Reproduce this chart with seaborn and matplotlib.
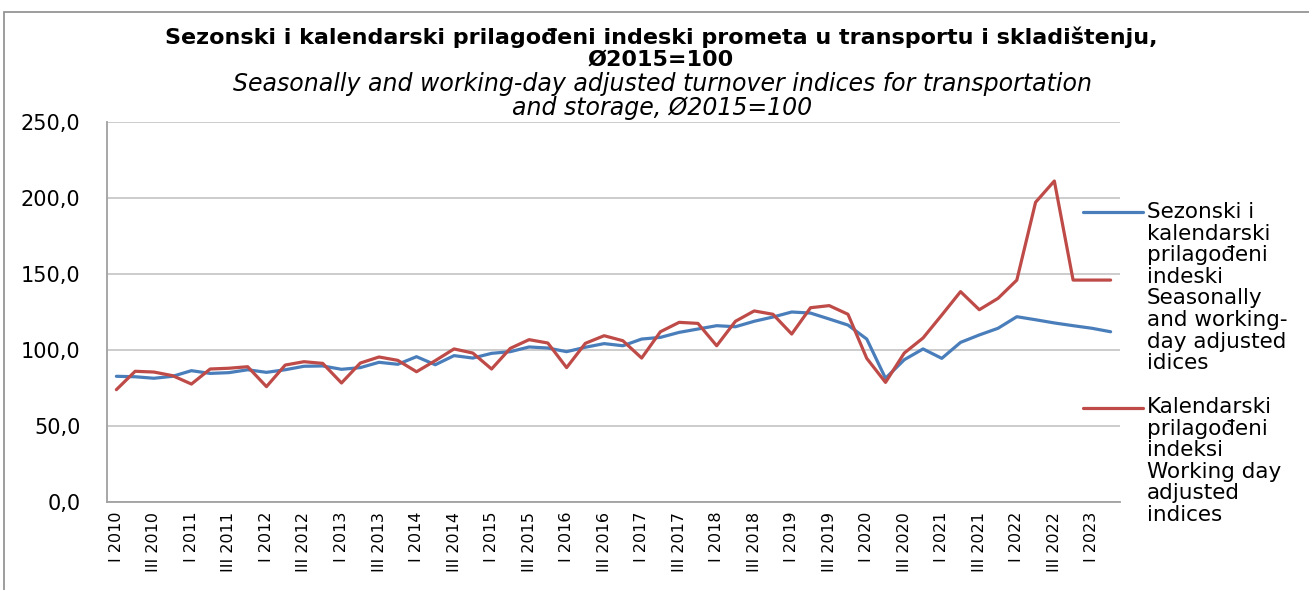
import matplotlib
matplotlib.use("Agg")
import matplotlib.pyplot as plt
from matplotlib.patches import Rectangle
from matplotlib.lines import Line2D
import numpy as np
import pandas as pd
import seaborn as sns

# quarters I 2010 .. II 2023
years = list(range(2010, 2024))
quarters = ["I", "II", "III", "IV"]
periods = [f"{q} {y}" for y in years for q in quarters][:54]

seasonal = [82.7, 82.4, 81.4, 82.7, 86.4, 84.6, 85.1, 87.0, 85.3, 87.0,
            89.3, 89.5, 87.3, 88.4, 91.9, 90.6, 95.6, 90.3, 96.3, 94.7,
            97.8, 98.9, 102.0, 101.3, 98.9, 101.8, 104.2,
            102.8, 107.2, 108.3, 111.6, 113.8, 116.0, 115.3, 118.9, 121.7,
            125.0, 124.3, 120.4, 116.4, 107.2, 81.4, 93.6, 100.7, 94.5,
            105.0, 109.9, 114.3, 121.9, 119.9, 117.8, 116.0, 114.3, 112.0]

working_day = [73.9, 86.0, 85.5, 83.1, 77.6, 87.5, 88.0, 89.0, 75.9, 90.1,
               92.3, 91.2, 78.3, 91.4, 95.4, 93.2, 85.7, 93.0, 100.7, 98.0,
               87.5, 101.1, 106.8, 104.6, 88.4, 104.4, 109.4,
               106.1, 94.7, 112.0, 118.2, 117.5, 102.8, 118.9, 125.7, 123.5,
               110.5, 127.8, 129.2, 123.5, 94.5, 78.7, 98.0, 107.9, 123.0,
               138.4, 126.5, 134.0, 146.0, 197.2, 211.2, 146.0, 146.0, 146.0]

label_seasonal = ("Sezonski i\nkalendarski\nprilagođeni\nindeski\nSeasonally\n"
                  "and working-\nday adjusted\nidices")
label_working = ("Kalendarski\nprilagođeni\nindeksi\nWorking day\nadjusted\n"
                 "indices")

title_sr = ("Sezonski i kalendarski prilagođeni indeski prometa u transportu i "
            "skladištenju,\nØ2015=100")
title_en = ("Seasonally and working-day adjusted turnover indices for transportation\n"
            "and storage, Ø2015=100")

colors = ["#4A7EBB", "#BE4B48"]

df = pd.DataFrame({
    "idx": list(range(len(periods))) * 2,
    "value": seasonal + working_day,
    "series": [label_seasonal] * len(periods) + [label_working] * len(periods),
})

sns.set_theme(style="white")
plt.rcParams["font.family"] = ["DejaVu Sans"]
plt.rcParams["text.color"] = "black"
plt.rcParams["xtick.color"] = "black"
plt.rcParams["ytick.color"] = "black"

fig = plt.figure(figsize=(13.09, 5.90), dpi=100)
ax = fig.add_axes([107 / 1309, 1 - 502 / 590, (1120 - 107) / 1309, (502 - 122) / 590])

sns.lineplot(data=df, x="idx", y="value", hue="series",
             palette=colors, linewidth=2.3, ax=ax, legend=False)

ax.set_xlim(-0.5, len(periods) - 0.5)
ax.set_ylim(0, 250)
ax.set_yticks(np.arange(0, 251, 50))
ax.set_yticklabels([f"{v:.1f}".replace(".", ",") for v in np.arange(0, 251, 50)],
                   fontsize=15)
ax.set_xticks(range(0, len(periods), 2))
ax.set_xticklabels(periods[::2], rotation=90, fontsize=11.5,
                   family=["DejaVu Sans Condensed", "DejaVu Sans"])
ax.tick_params(axis="y", length=0, pad=19)
ax.tick_params(axis="x", length=0, pad=7)
ax.set_xlabel("")
ax.set_ylabel("")
ax.grid(axis="y", color="#C8C8C8", linewidth=1.3)
ax.set_axisbelow(True)
for s in ["top", "right"]:
    ax.spines[s].set_visible(False)
for s in ["left", "bottom"]:
    ax.spines[s].set_color("#A0A0A0")
    ax.spines[s].set_linewidth(1.3)

# legend drawn by hand so the key line sits at the first text line
for lab, col, ytop, yline in [(label_seasonal, colors[0], 202, 212),
                              (label_working, colors[1], 397, 408)]:
    fig.add_artist(Line2D([1083 / 1309, 1143 / 1309], [1 - yline / 590] * 2,
                          color=col, linewidth=2.3, transform=fig.transFigure))
    fig.text(1147 / 1309, 1 - ytop / 590, lab, ha="left", va="top",
             fontsize=15.5, linespacing=1.1)

fig.text(0.505, 1 - 27 / 590, title_sr, ha="center", va="top",
         fontsize=16, fontweight="bold", linespacing=1.08)
fig.text(0.506, 1 - 72 / 590, title_en, ha="center", va="top",
         fontsize=17, style="italic", linespacing=1.0)

fig.add_artist(Rectangle((4 / 1309, -0.05), 1.1, 1 - 12 / 590 + 0.05,
                         transform=fig.transFigure, fill=False,
                         edgecolor="#8C8C8C", linewidth=1.2))

fig.savefig("out.png", dpi=100)
